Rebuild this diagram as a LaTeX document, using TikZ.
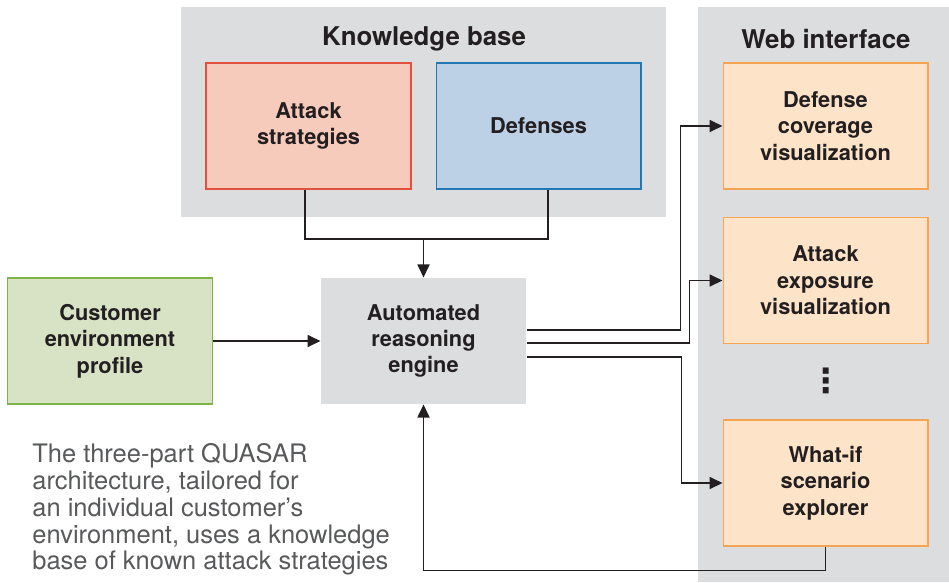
\documentclass[tikz,border=0pt]{standalone}
\usepackage{fontspec}
\setmainfont{TeX Gyre Heros}
\newfontfamily\symfont{DejaVu Sans}
\usepackage{xcolor}
\usetikzlibrary{arrows.meta,positioning,calc}

\definecolor{panelgray}{HTML}{DCDDDF}
\definecolor{inkdark}{HTML}{231F20}
\definecolor{captiongray}{HTML}{58595B}
\definecolor{attackfill}{HTML}{F6CBBB}
\definecolor{attackline}{HTML}{E2513F}
\definecolor{defensefill}{HTML}{BCD0E6}
\definecolor{defenseline}{HTML}{2277B4}
\definecolor{customerfill}{HTML}{D8E3C6}
\definecolor{customerline}{HTML}{7DB443}
\definecolor{webfill}{HTML}{FDE3C8}
\definecolor{webline}{HTML}{F4A452}

\begin{document}
\begin{tikzpicture}[x=0.02cm,y=-0.02cm]
    % Define styles
    \tikzstyle{panel}=[fill=panelgray,inner sep=0pt]
    \tikzstyle{paneltitle}=[font=\fontsize{14.7}{16}\selectfont\bfseries,text=inkdark]
    \tikzstyle{block}=[rectangle,minimum width=4.1cm,minimum height=2.52cm,align=center,
        text=inkdark,font=\fontsize{12.4}{15}\selectfont\bfseries,line width=0.6pt]
    \tikzstyle{attackbox}=[block,fill=attackfill,draw=attackline]
    \tikzstyle{defensebox}=[block,fill=defensefill,draw=defenseline]
    \tikzstyle{customerbox}=[block,fill=customerfill,draw=customerline]
    \tikzstyle{enginebox}=[block,fill=panelgray]
    \tikzstyle{webbox}=[block,fill=webfill,draw=webline]
    \tikzstyle{arr}=[inkdark,line width=1pt,-{Triangle[length=0.26cm,width=0.24cm]}]
    \tikzstyle{wire}=[inkdark,line width=1pt]

    \useasboundingbox (0,0) rectangle (949,582);

    % Panels
    \node[panel,minimum width=9.7cm,minimum height=4.2cm] (kbpanel) at (423.5,112) {};
    \node[panel,minimum width=5.02cm,minimum height=11.5cm] (webpanel) at (823.5,294.5) {};
    \node[paneltitle] (kbtitle) at (424,39) {Knowledge base};
    \node[paneltitle] (webtitle) at (826,39) {Web interface};

    % Knowledge base
    \node[attackbox] (attack) at (308.5,126) {Attack\\strategies};
    \node[defensebox] (defense) at (538.5,126) {Defenses};

    % Engine and customer profile
    \node[enginebox] (engine) at (423.5,341) {Automated\\reasoning\\engine};
    \node[customerbox] (customer) at (110,341) {Customer\\environment\\profile};

    % Web interface
    \node[webbox] (coverage) at (825.5,126) {Defense\\coverage\\visualization};
    \node[webbox] (exposure) at (825.5,280.5) {Attack\\exposure\\visualization};
    \node[webbox] (whatif) at (825.5,483) {What-if\\scenario\\explorer};
    \node[font=\symfont\fontsize{19}{20}\selectfont\bfseries,text=inkdark,inner sep=0pt]
        (more) at (826,381) {⋮};

    % Connections
    \coordinate (joint) at (423.5,239);
    \draw[wire] ([xshift=-0.07cm]attack.south) |- (joint) -| ([xshift=0.19cm]defense.south);
    \draw[arr] (joint) -- (engine.north);
    \draw[arr] (customer) -- (engine);
    \foreach \dy/\dx/\t in {0.22cm/154/coverage,-0.04cm/163/exposure,-0.32cm/155/whatif} {
        \draw[arr] ([yshift=\dy]engine.east) -- ++(\dx,0) |- (\t.west);
    }
    \draw[arr] (whatif.south) -- ++(0,24) -| (engine.south);

    % Caption
    \node[anchor=north west,align=left,inner sep=0pt,text=captiongray,
        font=\fontsize{14.5}{15.3}\selectfont] (caption) at (32,443)
        {The three-part QUASAR\\architecture, tailored for\\an individual customer’s\\environment, uses a knowledge\\base of known attack strategies};
\end{tikzpicture}
\end{document}
